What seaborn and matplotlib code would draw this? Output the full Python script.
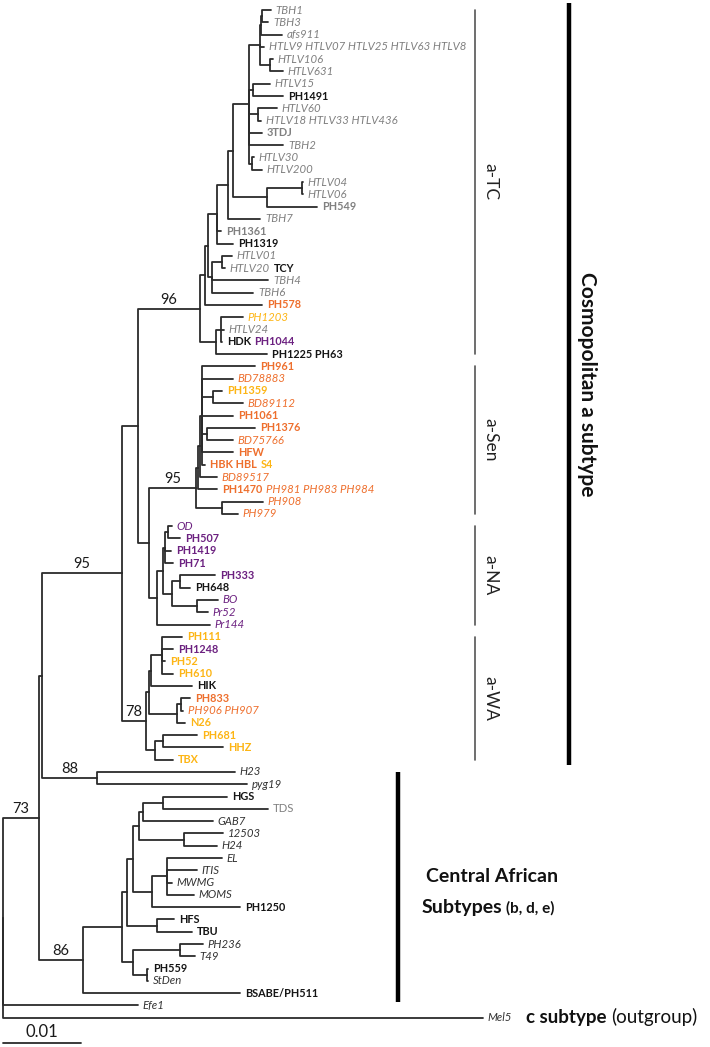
import pandas as pd
import matplotlib
matplotlib.use("Agg")
import matplotlib.pyplot as plt
import matplotlib.transforms as mtransforms
import seaborn as sns

# === 1. Tree topology: internal nodes (depth from root, x 0.001 subst./site) ===
node_names = ["root", "n73", "nA", "n88", "n95", "nP0", "n96", "I1", "H0", "F0", "E0", "D0",
              "C0", "B3", "B2", "B1", "B4", "B5", "B6", "C2", "D1", "D2", "G0", "G1", "J0", "J1",
              "Q0", "S0", "S1", "S1b", "S2", "S3", "S4", "S5", "R0", "R7", "R3", "R2", "R6", "R4", "R5",
              "n78", "U3", "U2", "U1", "U4", "U5", "V0", "V1",
              "n86", "K1", "K2", "L5", "L3", "L2", "L1", "L4", "M0", "M1", "N0", "K3", "O1", "O2"]
node_parents = [None, "root", "n73", "nA", "nA", "n95", "nP0", "n96", "I1", "H0", "F0", "E0",
                "D0", "C0", "B3", "B2", "B3", "C0", "C0", "C0", "D0", "D1", "H0", "G0", "n96", "J0",
                "nP0", "Q0", "S0", "S1", "S1b", "S2", "S2", "S0", "Q0", "R0", "R7", "R3", "R7", "R6", "R6",
                "n95", "n78", "U3", "U2", "U3", "U4", "n78", "V0",
                "n73", "n86", "K1", "K2", "L5", "L3", "L2", "L3", "L5", "M0", "K2", "K1", "K3", "K3"]
node_depths = [0.0, 4.63, 5.02, 12.10, 15.32, 17.37, 25.35, 26.00, 26.38, 27.54, 28.96, 29.60,
               31.66, 33.08, 33.20, 33.33, 34.36, 32.18, 32.82, 32.05, 33.98, 38.48, 26.90, 28.19, 27.41, 28.06,
               18.79, 24.84, 25.16, 25.35, 25.61, 27.03, 26.25, 28.19, 19.82, 20.59, 20.85, 21.24, 21.75, 22.78, 24.97,
               18.40, 18.79, 19.05, 20.46, 22.39, 22.91, 19.56, 20.59,
               10.30, 15.32, 15.96, 16.73, 17.50, 18.02, 20.59, 23.29, 19.18, 21.11, 19.82, 16.73, 22.78, 18.53]

# === 2. Leaves (top to bottom), "|" separates differently styled parts ===
leaf_labels = ["TBH1", "TBH3", "afs911", "HTLV9 HTLV07 HTLV25 HTLV63 HTLV8", "HTLV106", "HTLV631",
               "HTLV15", "PH1491", "HTLV60", "HTLV18 HTLV33 HTLV436", "3TDJ", "TBH2", "HTLV30",
               "HTLV200", "HTLV04", "HTLV06", "PH549", "TBH7", "PH1361", "PH1319", "HTLV01",
               "HTLV20|TCY", "TBH4", "TBH6", "PH578", "PH1203", "HTLV24", "HDK|PH1044", "PH1225 PH63",
               "PH961", "BD78883", "PH1359", "BD89112", "PH1061", "PH1376", "BD75766", "HFW",
               "HBK HBL|S4", "BD89517", "PH1470|PH981 PH983 PH984", "PH908", "PH979",
               "OD", "PH507", "PH1419", "PH71", "PH333", "PH648", "BO", "Pr52", "Pr144",
               "PH111", "PH1248", "PH52", "PH610", "HIK", "PH833", "PH906 PH907", "N26", "PH681",
               "HHZ", "TBX", "H23", "pyg19", "HGS", "TDS", "GAB7", "12503", "H24", "EL", "ITIS",
               "MWMG", "MOMS", "PH1250", "HFS", "TBU", "PH236", "T49", "PH559", "StDen",
               "BSABE/PH511", "Efe1", "Mel5"]
# colour letter: g grey, k black, d dark, o orange, y yellow, p purple; i italic, b bold, n normal
leaf_styles = ["gi", "gi", "gi", "gi", "gi", "gi",
               "gi", "kb", "gi", "gi", "gb", "gi", "gi",
               "gi", "gi", "gi", "gb", "gi", "gb", "kb", "gi",
               "gi|kb", "gi", "gi", "ob", "yi", "gi", "kb|pb", "kb",
               "ob", "oi", "yb", "oi", "ob", "ob", "oi", "ob",
               "ob|yb", "oi", "ob|oi", "oi", "oi",
               "pi", "pb", "pb", "pb", "pb", "kb", "pi", "pi", "pi",
               "yb", "pb", "yb", "yb", "kb", "ob", "oi", "yb", "yb",
               "yb", "yb", "di", "di", "kb", "gn", "di", "di", "di", "di", "di",
               "di", "di", "kb", "kb", "kb", "di", "di", "kb", "di",
               "kb", "di", "di"]
leaf_parents = ["B1", "B1", "B2", "B3", "B4", "B4",
                "B5", "B5", "B6", "B6", "C0", "C0", "C2",
                "C2", "D2", "D2", "D1", "E0", "F0", "F0", "G1",
                "G1", "G0", "G0", "I1", "J1", "J1", "J1", "J0",
                "S2", "S2", "S3", "S3", "S2", "S4", "S4", "S2",
                "S2", "S1b", "S1", "S5", "S5",
                "R2", "R2", "R3", "R3", "R4", "R4", "R5", "R5", "R0",
                "U1", "U1", "U1", "U1", "U2", "U5", "U5", "U4", "V1",
                "V1", "V0", "n88", "n88", "L1", "L1", "L2", "L4", "L4", "M1", "M1",
                "M1", "M1", "M0", "N0", "N0", "O1", "O1", "O2", "O2",
                "n86", "root", "root"]
leaf_depths = [34.49, 34.11, 35.91, 33.59, 34.75, 36.04,
               34.36, 36.04, 35.26, 33.20, 33.33, 36.04, 32.30,
               33.33, 38.55, 38.55, 40.41, 33.08, 28.06, 29.60, 29.47,
               28.57, 34.11, 32.18, 33.33, 30.89, 28.44, 28.19, 33.98,
               32.43, 29.60, 28.19, 30.89, 29.60, 32.43, 29.60, 29.60,
               26.00, 27.54, 27.54, 33.46, 30.24,
               21.75, 22.78, 21.62, 21.88, 27.28, 24.07, 27.67, 26.38, 26.64,
               23.04, 21.88, 20.85, 21.88, 24.32, 24.07, 23.17, 23.42, 24.97,
               28.31, 21.88, 29.86, 31.40, 28.83, 34.11, 27.03, 28.31, 27.54, 28.19, 24.97,
               21.75, 24.58, 30.50, 22.01, 24.32, 25.74, 24.71, 18.66, 18.66,
               30.50, 17.37, 61.78]

# bootstrap support shown on the branch leading to a node
boot_nodes = ["n96", "S0", "n95", "n78", "n88", "n73", "n86"]
boot_values = [96, 95, 95, 78, 88, 73, 86]

# clade brackets
clade_names = ["a-TC", "a-Sen", "a-NA", "a-WA"]
clade_first = ["TBH1", "PH961", "OD", "PH111"]
clade_last = ["PH1225 PH63", "PH979", "Pr144", "TBX"]

UNIT = 1e-3
SCALE_LEN = 0.01

# === 3. Layout ===
depth = {n: d * UNIT for n, d in zip(node_names, node_depths)}
parent = dict(zip(node_names, node_parents))
children = {n: [] for n in node_names}
for n, p in zip(node_names, node_parents):
    if p is not None:
        children[p].append(n)

ypos = {}
for i, (p, d) in enumerate(zip(leaf_parents, leaf_depths)):
    key = f"leaf{i}"
    depth[key] = d * UNIT
    parent[key] = p
    children[p].append(key)
    ypos[key] = i


def place(n):
    if n in ypos:
        return ypos[n]
    ys = [place(c) for c in children[n]]
    ypos[n] = (min(ys) + max(ys)) / 2
    return ypos[n]


place("root")

rows = []
for k, n in enumerate(parent):
    p = parent[n]
    if p is None:
        continue
    for x, y in [(depth[p], ypos[p]), (depth[p], ypos[n]), (depth[n], ypos[n])]:
        rows.append({"edge": k, "x": x, "y": y})
edges = pd.DataFrame(rows)

# === 4. Plot ===
sns.set_theme(style="white")
plt.rcParams["font.family"] = ["Lato", "DejaVu Sans"]

fig = plt.figure(figsize=(7.1, 10.47), dpi=100)
ax = fig.add_axes([0, 0, 1, 1])
sns.lineplot(data=edges, x="x", y="y", units="edge", estimator=None, sort=False,
             color="#2b2b2b", linewidth=1.3, legend=False, ax=ax)

n_leaves = len(leaf_labels)
ax.set_xlim(-3 / 7770, 707 / 7770)
ax.set_ylim((1047 - 10) / 12.29, -10 / 12.29)
ax.axis("off")

colors = {"g": "#808080", "k": "#151515", "d": "#333333", "o": "#EE6F2D",
          "y": "#FDB515", "p": "#6C2180"}
faces = {"i": ("normal", "italic", 8.2), "b": ("bold", "normal", 7.8), "n": ("normal", "normal", 8.2)}

for i, (lab, sty) in enumerate(zip(leaf_labels, leaf_styles)):
    key = f"leaf{i}"
    prev = None
    for seg, st in zip(lab.split("|"), sty.split("|")):
        weight, style, size = faces[st[1]]
        kw = dict(color=colors[st[0]], fontweight=weight, fontstyle=style, fontsize=size)
        if prev is None:
            prev = ax.annotate(seg, xy=(depth[key], ypos[key]), xytext=(3.5, 0),
                               textcoords="offset points", ha="left", va="center", **kw)
        else:
            prev = ax.annotate(seg, xy=(1, 0), xycoords=prev, xytext=(2.5, 0),
                               textcoords="offset points", ha="left", va="bottom", **kw)

for n, v in zip(boot_nodes, boot_values):
    xm = (depth[parent[n]] + depth[n]) / 2
    ax.annotate(str(v), xy=(xm, ypos[n]), xytext=(0, 1.5), textcoords="offset points",
                ha="center", va="bottom", fontsize=10.5, color="#1a1a1a")

# clade brackets on the right
trans = mtransforms.blended_transform_factory(ax.transAxes, ax.transData)
leaf_index = {lab.replace("|", " "): i for i, lab in enumerate(leaf_labels)}
for name, a, b in zip(clade_names, clade_first, clade_last):
    y0, y1 = leaf_index[a], leaf_index[b]
    ax.plot([0.669, 0.669], [y0, y1], transform=trans, color="#555555", lw=1.2)
    ax.text(0.690, (y0 + y1) / 2, name, rotation=-90, ha="center", va="center",
            transform=trans, fontsize=12.5, color="#222222")

y0, y1 = leaf_index["TBH1"] - 0.55, leaf_index["TBX"] + 0.4
ax.plot([0.801, 0.801], [y0, y1], transform=trans, color="black", lw=3.2, solid_capstyle="butt")
ax.text(0.827, (y0 + y1) / 2, "Cosmopolitan a subtype", rotation=-90, ha="center", va="center",
        transform=trans, fontsize=15, fontweight="bold", color="#111111")

y0, y1 = leaf_index["H23"], leaf_index["BSABE/PH511"] + 0.7
ax.plot([0.561, 0.561], [y0, y1], transform=trans, color="black", lw=3.2, solid_capstyle="butt")
ax.text(0.693, 70.5, "Central African", ha="center", va="center", transform=trans,
        fontsize=14, fontweight="bold", color="#111111")
ax.text(0.708, 73.0, "Subtypes", ha="right", va="center", transform=trans,
        fontsize=14, fontweight="bold", color="#111111")
ax.text(0.713, 73.1, "(b, d, e)", ha="left", va="center", transform=trans,
        fontsize=11, fontweight="bold", color="#111111")

yo = leaf_index["Mel5"]
c_txt = ax.text(0.741, yo, "c subtype", ha="left", va="center", transform=trans,
                fontsize=13.5, fontweight="bold", color="#111111")
ax.annotate("(outgroup)", xy=(1, 0), xycoords=c_txt, xytext=(3.5, 0), textcoords="offset points",
            ha="left", va="bottom", fontsize=13.5, color="#111111")

# scale bar
ysb = n_leaves + 1.05
ax.plot([0, SCALE_LEN], [ysb, ysb], color="#2b2b2b", lw=1.3)
ax.annotate("0.01", xy=(SCALE_LEN / 2, ysb), xytext=(0, 2), textcoords="offset points",
            ha="center", va="bottom", fontsize=12, color="#1a1a1a")

fig.savefig("out.png", dpi=100)
